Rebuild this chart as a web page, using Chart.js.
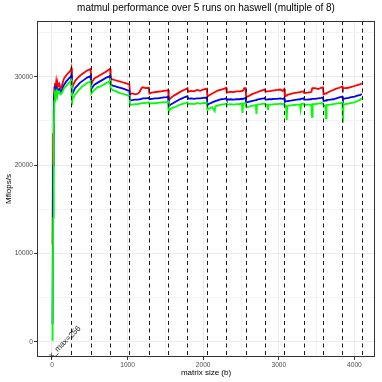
<!DOCTYPE html>
<html>
<head>
<meta charset="utf-8">
<script src="https://cdn.jsdelivr.net/npm/chart.js@4"></script>
<style>
  body { margin: 0; background: #fff; }
  canvas { display: block; }
</style>
</head>
<body>
<canvas id="myChart" width="382" height="382"></canvas>
<script>
// data (matrix size in b, Mflops/s)
var matrixSizes = [
    8, 16, 24, 32, 40, 48, 56, 64, 72, 80, 96, 112, 128, 144, 160, 192, 224, 248, 256,
    264, 272, 288, 304, 336, 368, 400, 432, 464, 496, 512,
    520, 536, 560, 600, 640, 680, 720, 752, 768,
    776, 800, 840, 880, 920, 960, 1000, 1024,
    1032, 1060, 1100, 1140, 1160, 1184, 1200, 1240, 1280,
    1288, 1320, 1360, 1400, 1440, 1480, 1520, 1536,
    1544, 1560, 1600, 1640, 1680, 1720, 1760, 1792,
    1800, 1840, 1880, 1920, 1960, 2000, 2048,
    2056, 2080, 2120, 2152, 2160, 2200, 2240, 2280, 2304,
    2312, 2360, 2400, 2440, 2480, 2512, 2520, 2528, 2544, 2560,
    2568, 2600, 2640, 2696, 2704, 2712, 2760, 2800, 2816,
    2824, 2848, 2856, 2864, 2900, 2940, 2980, 3020, 3048, 3072,
    3080, 3096, 3104, 3112, 3160, 3200, 3240, 3280, 3288, 3296, 3328,
    3336, 3380, 3420, 3432, 3440, 3448, 3480, 3520, 3560, 3584,
    3592, 3616, 3624, 3632, 3680, 3720, 3760, 3800, 3840,
    3848, 3856, 3880, 3920, 3960, 4000, 4040, 4080, 4096
];
var mflopsMax = [
    11000, 23500, 27500, 28800, 29300, 28700, 29400, 28800, 29300, 28900, 29200, 28700, 28900, 29400, 29800, 30200, 30500, 30700, 30950,
    28600, 28800, 29200, 29500, 29800, 30100, 30300, 30500, 30700, 30800, 30900,
    29100, 29500, 29800, 30000, 30200, 30400, 30600, 30800, 30900,
    29800, 29700, 29600, 29500, 29400, 29300, 29200, 29100,
    28000, 28100, 28000, 28100, 28300, 28700, 28800, 28700, 28750,
    28100, 28200, 28250, 28300, 28350, 28400, 28450, 28500,
    27300, 27500, 27800, 28000, 28200, 28400, 28550, 28700,
    28300, 28400, 28350, 28500, 28400, 28550, 28650,
    27750, 27900, 28100, 28250, 28300, 28450, 28550, 28650, 28750,
    28200, 28300, 28250, 28350, 28350, 28400, 28400, 28450, 28700, 28700,
    27700, 27800, 28000, 28200, 28200, 28250, 28400, 28500, 28550,
    28300, 28350, 28350, 28350, 28400, 28450, 28500, 28550, 28400, 28600,
    27750, 27850, 27900, 27950, 28050, 28150, 28200, 28250, 28250, 28300, 28350,
    28150, 28200, 28250, 28300, 28650, 28700, 28700, 28600, 28750, 28800,
    28000, 28100, 28100, 28150, 28350, 28500, 28650, 28750, 28900,
    28700, 28700, 28700, 28750, 28850, 28950, 29050, 29150, 29250
];
var mflopsMean = [
    2000, 20000, 26000, 28000, 28500, 28300, 28700, 28400, 28600, 28500, 28600, 28300, 28400, 28800, 29100, 29500, 29800, 30000, 30150,
    28000, 28100, 28400, 28700, 29000, 29300, 29500, 29700, 29900, 30000, 30100,
    28600, 28800, 29100, 29300, 29500, 29700, 29900, 30000, 30100,
    29200, 29000, 28900, 28800, 28700, 28600, 28450, 28400,
    27300, 27350, 27400, 27400, 27450, 27500, 27550, 27550, 27600,
    27450, 27500, 27550, 27550, 27600, 27650, 27700, 27750,
    26650, 26800, 27000, 27200, 27400, 27550, 27700, 27800,
    27500, 27550, 27500, 27550, 27550, 27600, 27650,
    26800, 26950, 27100, 27200, 27250, 27350, 27450, 27500, 27550,
    27400, 27450, 27400, 27450, 27450, 27500, 27450, 27500, 27550, 27600,
    27100, 27150, 27250, 27350, 27350, 27400, 27500, 27550, 27600,
    27400, 27400, 27400, 27450, 27450, 27500, 27500, 27550, 27500, 27550,
    27150, 27200, 27200, 27250, 27300, 27350, 27400, 27450, 27450, 27500, 27550,
    27400, 27400, 27450, 27450, 27500, 27500, 27500, 27550, 27600, 27650,
    27250, 27300, 27300, 27350, 27400, 27450, 27550, 27650, 27750,
    27450, 27500, 27550, 27600, 27700, 27750, 27850, 27950, 28050
];
var mflopsMin = [
    150, 14000, 24000, 27200, 28100, 27900, 28300, 28000, 28300, 28100, 28300, 28000, 28100, 28400, 28700, 29000, 29300, 29500, 29600,
    26800, 27500, 27700, 27950, 28300, 28600, 28900, 29100, 29300, 29400, 29500,
    28100, 28300, 28500, 28800, 28900, 29100, 29300, 29400, 29600,
    28700, 28500, 28400, 28200, 28100, 28000, 27900, 27800,
    26800, 26850, 26900, 26900, 26950, 27000, 27000, 27050, 27100,
    26950, 27000, 27000, 27050, 27100, 27100, 27150, 27200,
    26000, 26300, 26500, 26600, 26800, 26900, 27000, 27100,
    26900, 26950, 26900, 27000, 26950, 27000, 27050,
    26250, 26400, 26550, 26100, 26650, 26750, 26850, 26900, 26950,
    26850, 26900, 26850, 26900, 26900, 26950, 25900, 26950, 27000, 27000,
    26550, 26600, 26700, 26800, 25800, 26850, 26900, 26950, 26950,
    26800, 26850, 26250, 26850, 26850, 26900, 26900, 26950, 26900, 26950,
    26600, 26650, 25100, 26700, 26750, 26800, 26850, 26850, 26300, 26900, 26950,
    26800, 26850, 26850, 26850, 25450, 26900, 26900, 26950, 27000, 27000,
    26700, 26750, 25300, 26800, 26850, 26900, 26950, 27000, 27050,
    24800, 26850, 26900, 26950, 27050, 27100, 27250, 27400, 27600
];

// dashed vertical lines (multiples of 256)
var blockSizes = [256, 512, 768, 1024, 1280, 1536, 1792, 2048, 2304, 2560, 2816, 3072, 3328, 3584, 3840, 4096];

// axes
var xGridValues = [0, 500, 1000, 1500, 2000, 2500, 3000, 3500, 4000];
var xTickLabels = [0, 1000, 2000, 3000, 4000];
var yGridValues = [0, 5000, 10000, 15000, 20000, 25000, 30000, 35000];
var yTickLabels = [0, 10000, 20000, 30000];

var chartTitle = "matmul performance over 5 runs on haswell (multiple of 8)";
var noteText = "x_max=256";
var notePos = [170, 0];

function toPoints(values) {
    return matrixSizes.map(function (s, i) { return {x: s, y: values[i]}; });
}

function gridColor(labels) {
    return function (c) {
        if (!c.tick) return "#ebebeb";
        return labels.indexOf(c.tick.value) >= 0 ? "#ebebeb" : "#f3f3f3";
    };
}
function tickColor(labels) {
    return function (c) {
        if (!c.tick) return "transparent";
        return labels.indexOf(c.tick.value) >= 0 ? "#333333" : "rgba(0,0,0,0)";
    };
}

var fontFamily = "'Liberation Sans', Arial, sans-serif";
Chart.defaults.font.family = fontFamily;

// title, panel border, dashed lines and the rotated note
var extrasPlugin = {
    id: "extras",
    afterDatasetsDraw: function (chart) {
        var ctx = chart.ctx;
        var area = chart.chartArea;
        var xs = chart.scales.x;
        var ys = chart.scales.y;
        ctx.save();
        ctx.beginPath();
        ctx.rect(area.left, area.top, area.right - area.left, area.bottom - area.top);
        ctx.clip();
        ctx.strokeStyle = "#1a1a1a";
        ctx.lineWidth = 1;
        ctx.setLineDash([4, 3.5]);
        blockSizes.forEach(function (b) {
            var px = Math.round(xs.getPixelForValue(b)) + 0.5;
            ctx.beginPath();
            ctx.moveTo(px, area.top);
            ctx.lineTo(px, area.bottom);
            ctx.stroke();
        });
        ctx.restore();

        ctx.save();
        ctx.translate(xs.getPixelForValue(notePos[0]), ys.getPixelForValue(notePos[1]));
        ctx.rotate(-Math.PI / 4);
        ctx.fillStyle = "#1a1a1a";
        ctx.font = "8px " + fontFamily;
        ctx.textAlign = "center";
        ctx.textBaseline = "middle";
        ctx.fillText(noteText, 0, 0);
        ctx.restore();
    },
    afterDraw: function (chart) {
        var ctx = chart.ctx;
        var area = chart.chartArea;
        ctx.save();
        ctx.strokeStyle = "#333333";
        ctx.lineWidth = 1;
        ctx.strokeRect(Math.round(area.left) + 0.5, Math.round(area.top) + 0.5,
            Math.round(area.right - area.left) - 1, Math.round(area.bottom - area.top) - 1);
        ctx.fillStyle = "#000";
        ctx.font = "10px " + fontFamily;
        ctx.textAlign = "center";
        ctx.textBaseline = "middle";
        ctx.fillText(chartTitle, (area.left + area.right) / 2, 8.5);
        ctx.restore();
    }
};

var context = document.getElementById("myChart").getContext("2d");
var myChart = new Chart(context, {
    type: "line",
    data: {
        datasets: [
            {label: "min", data: toPoints(mflopsMin), borderColor: "#00ff00", backgroundColor: "#00ff00"},
            {label: "mean", data: toPoints(mflopsMean), borderColor: "#0000ff", backgroundColor: "#0000ff"},
            {label: "max", data: toPoints(mflopsMax), borderColor: "#ff0000", backgroundColor: "#ff0000"}
        ]
    },
    options: {
        responsive: false,
        animation: false,
        devicePixelRatio: 1,
        elements: {
            point: {radius: 0},
            line: {borderWidth: 1.8, tension: 0}
        },
        layout: {padding: {top: 21, right: 7, bottom: 0, left: 0}},
        plugins: {
            legend: {display: false},
            tooltip: {enabled: false},
            title: {display: false}
        },
        scales: {
            x: {
                type: "linear",
                min: -198,
                max: 4272,
                afterBuildTicks: function (s) { s.ticks = xGridValues.map(function (v) { return {value: v}; }); },
                afterFit: function (s) { s.height = 25; },
                border: {display: false},
                grid: {color: gridColor(xTickLabels), tickColor: tickColor(xTickLabels), tickLength: 3, lineWidth: 1},
                ticks: {
                    autoSkip: false, maxRotation: 0, padding: 1, color: "#4d4d4d",
                    font: {size: 6.6},
                    callback: function (v) { return xTickLabels.indexOf(v) >= 0 ? String(v) : ""; }
                },
                title: {display: true, text: "matrix size (b)", color: "#000", font: {size: 8}, padding: {top: 0, bottom: 4.5}}
            },
            y: {
                type: "linear",
                min: -1700,
                max: 36300,
                afterBuildTicks: function (s) { s.ticks = yGridValues.map(function (v) { return {value: v}; }); },
                afterFit: function (s) { s.width = 37; },
                border: {display: false},
                grid: {color: gridColor(yTickLabels), tickColor: tickColor(yTickLabels), tickLength: 3, lineWidth: 1},
                ticks: {
                    autoSkip: false, padding: 1, color: "#4d4d4d",
                    font: {size: 6.6},
                    callback: function (v) { return yTickLabels.indexOf(v) >= 0 ? String(v) : ""; }
                },
                title: {display: true, text: "Mflops/s", color: "#000", font: {size: 8}, padding: {top: 3.5, bottom: 0}}
            }
        }
    },
    plugins: [extrasPlugin]
});
</script>
</body>
</html>
